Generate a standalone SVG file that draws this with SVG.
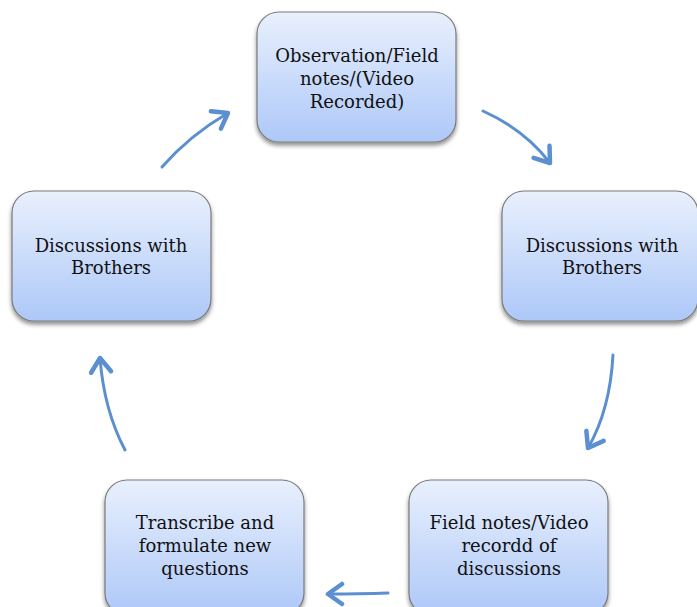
<svg xmlns="http://www.w3.org/2000/svg" width="697" height="607" viewBox="0 0 697 607">
<style>
.box{fill:url(#g);stroke:#7a7a7a;stroke-width:1.2;filter:url(#sh)}
.t{font-family:"DejaVu Serif","Liberation Serif",serif;font-size:18px;fill:#111;text-anchor:middle}
.arr{fill:none;stroke:#5b8fd0;stroke-width:3;stroke-linecap:round;marker-end:url(#ah)}
</style>
<defs>
<linearGradient id="g" x1="0" y1="0" x2="0" y2="1">
<stop offset="0" stop-color="#e9f0fd"/>
<stop offset="1" stop-color="#adc8f8"/>
</linearGradient>
<filter id="sh" x="-10%" y="-10%" width="120%" height="130%">
<feDropShadow dx="0" dy="3" stdDeviation="2" flood-color="#000" flood-opacity="0.45"/>
</filter>
<marker id="ah" markerUnits="userSpaceOnUse" viewBox="-20 -14 26 28" refX="0" refY="0" markerWidth="26" markerHeight="28" orient="auto">
<path d="M-14,-10 L0,0 L-14,10" fill="none" stroke="#5b8fd0" stroke-width="4.5" stroke-linecap="round" stroke-linejoin="round"/>
</marker>
</defs>
<g id="connectors">
<path class="arr" d="M483,111 Q525,130 550,163"/>
<path class="arr" d="M613,355 Q610,410 588,448"/>
<path class="arr" d="M388,593 Q360,594 328,594"/>
<path class="arr" d="M125,450 Q104,410 100,358"/>
<path class="arr" d="M162,167 Q190,135 228,113"/>
</g>
<g id="n1">
<rect class="box" x="257" y="12" width="199" height="130" rx="22"/>
<text class="t" x="357" y="62">Observation/Field</text>
<text class="t" x="357" y="85">notes/(Video</text>
<text class="t" x="357" y="108">Recorded)</text>
</g>
<g id="n2">
<rect class="box" x="502" y="191" width="196" height="130" rx="22"/>
<text class="t" x="602" y="252">Discussions with</text>
<text class="t" x="602" y="274">Brothers</text>
</g>
<g id="n3">
<rect class="box" x="409" y="480" width="199" height="135" rx="22"/>
<text class="t" x="509" y="529">Field notes/Video</text>
<text class="t" x="509" y="552">recordd of</text>
<text class="t" x="509" y="575">discussions</text>
</g>
<g id="n4">
<rect class="box" x="105" y="480" width="199" height="135" rx="22"/>
<text class="t" x="205" y="529">Transcribe and</text>
<text class="t" x="205" y="552">formulate new</text>
<text class="t" x="205" y="575">questions</text>
</g>
<g id="n5">
<rect class="box" x="12" y="191" width="199" height="130" rx="22"/>
<text class="t" x="111" y="252">Discussions with</text>
<text class="t" x="111" y="274">Brothers</text>
</g>
</svg>
